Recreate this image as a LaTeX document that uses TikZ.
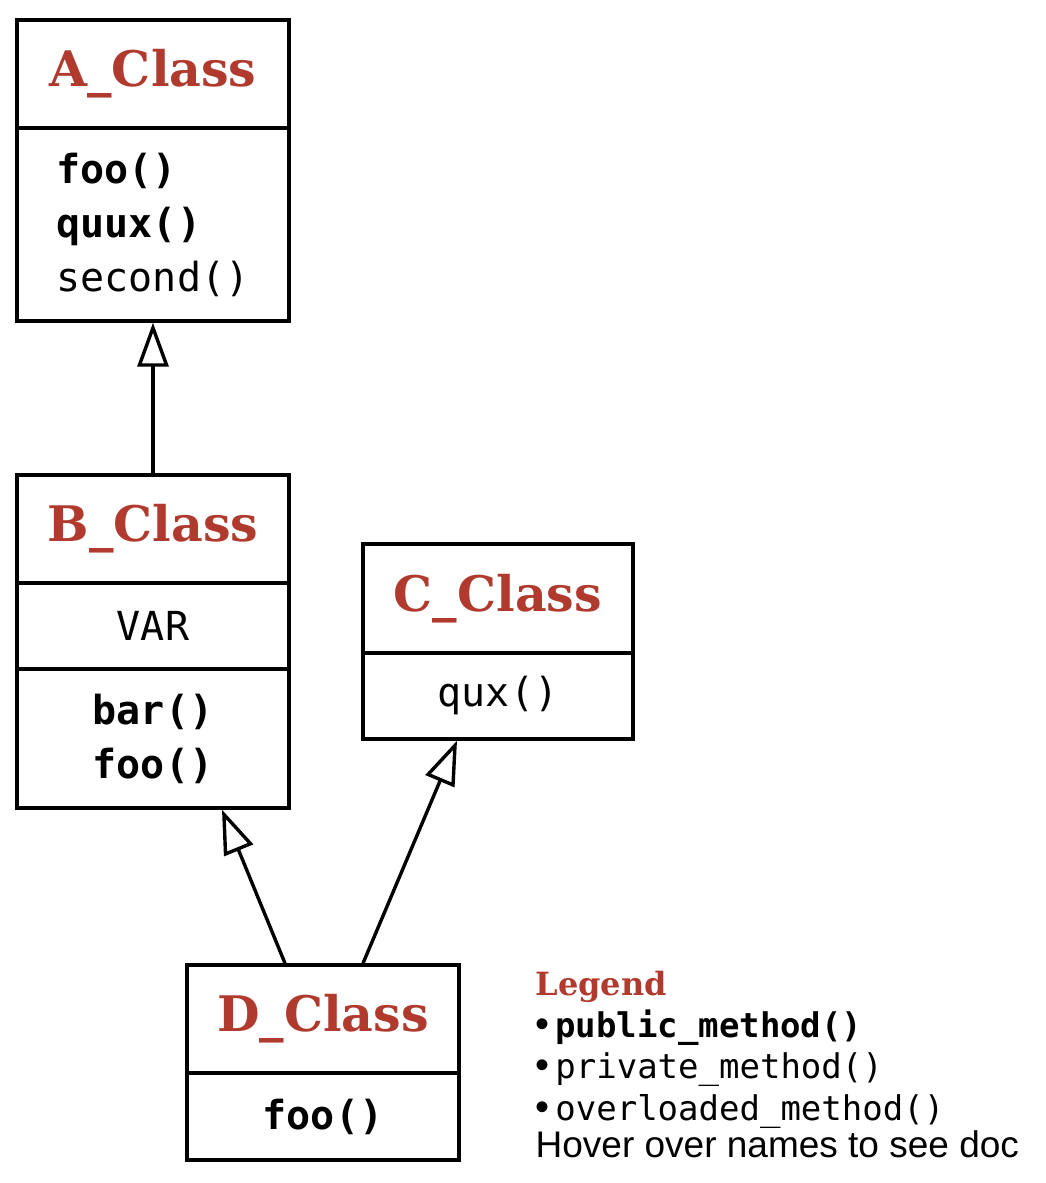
\documentclass[tikz,border=0pt]{standalone}
\usepackage{fontspec}
\setmainfont{Liberation Sans}
\setmonofont{DejaVu Sans Mono}
\newfontfamily\slabfont{DejaVu Serif}
\usetikzlibrary{arrows.meta,positioning,calc}
\definecolor{titlered}{RGB}{176,58,46}

\begin{document}
\begin{tikzpicture}[x=1pt, y=-1pt, line width=3.4pt]
    \tikzstyle{part}=[rectangle, draw=black, minimum width=272pt, inner sep=0pt];
    \tikzstyle{classname}=[part, text=titlered, font=\slabfont\bfseries\fontsize{49}{56}\selectfont];
    \tikzstyle{members}=[part, align=left, font=\ttfamily\fontsize{40}{54}\selectfont];
    \tikzstyle{inherits}=[-{Triangle[open, fill=white, length=44pt, width=31pt]}];
    \tikzstyle{legendline}=[anchor=base west, inner sep=0pt, font=\ttfamily\fontsize{34}{42}\selectfont];

    \useasboundingbox (0,0) rectangle (1046,1183);

    \node[classname, minimum height=108pt] (Atitle) at (153, 74) {A\_Class};
    \node[members, minimum height=193pt] (Abody) at (153, 224.5)
    {\textbf{foo()}\\\textbf{quux()}\\second()};

    \node[classname, minimum height=108pt] (Btitle) at (153, 529) {B\_Class};
    \node[members, minimum height=86pt] (Bvar) at (153, 626) {VAR};
    \node[members, minimum height=139pt] (Bbody) at (153, 738.5)
    {\textbf{bar()}\\\textbf{foo()}};

    \node[classname, minimum height=109pt, minimum width=270pt] (Ctitle) at (498, 598.5) {C\_Class};
    \node[members, minimum height=86pt, minimum width=270pt] (Cbody) at (498, 696) {qux()};

    \node[classname, minimum height=108pt] (Dtitle) at (323, 1019) {D\_Class};
    \node[members, minimum height=87pt] (Dbody) at (323, 1116.5) {\textbf{foo()}};

    \draw[inherits] (Btitle.north) -- (Abody.south);
    \draw[inherits] ([xshift=-38pt]Dtitle.north) -- ([xshift=69pt]Bbody.south);
    \draw[inherits] ([xshift=40pt]Dtitle.north) -- ([xshift=-41pt]Cbody.south);

    % legend
    \node[legendline, text=titlered, font=\slabfont\bfseries\fontsize{32}{40}\selectfont]
        (legendtitle) at (534, 995) {Legend};
    \node[legendline] (legendpub) at (534, 1037)
        {{\rmfamily\fontsize{40}{42}\selectfont\textbullet}\,\textbf{public\_method()}};
    \node[legendline] (legendpriv) at (534, 1078)
        {{\rmfamily\fontsize{40}{42}\selectfont\textbullet}\,private\_method()};
    \node[legendline] (legendover) at (534, 1120)
        {{\rmfamily\fontsize{40}{42}\selectfont\textbullet}\,overloaded\_method()};
    \node[legendline, font=\rmfamily\fontsize{37}{42}\selectfont] (legendhover) at (534, 1157)
        {Hover over names to see doc};
\end{tikzpicture}
\end{document}
